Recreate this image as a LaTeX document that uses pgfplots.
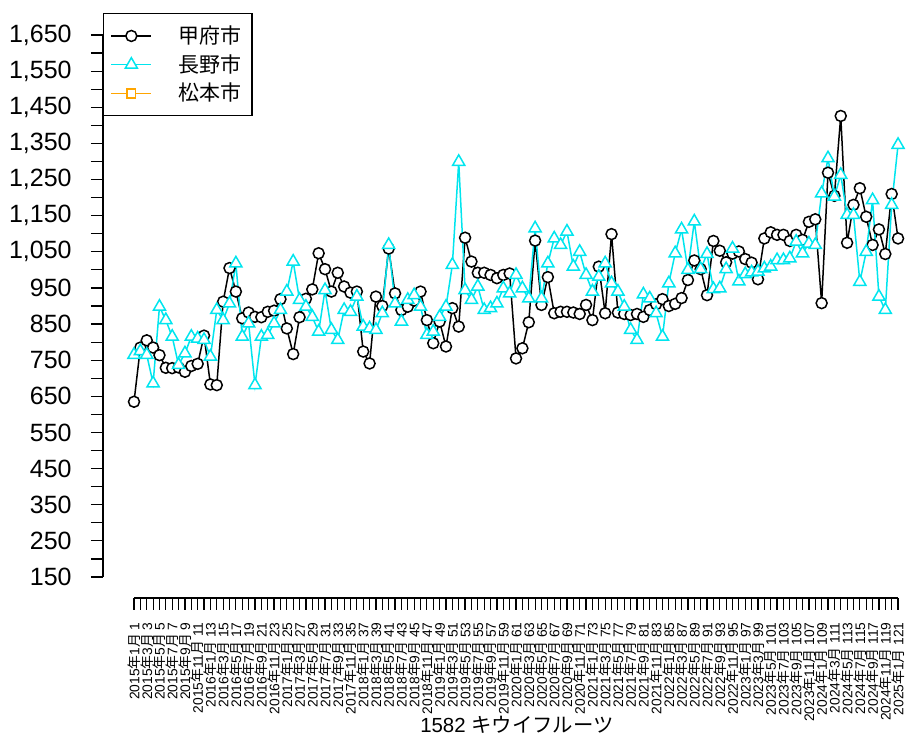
\documentclass[border=0pt]{standalone}
\usepackage{fontspec}
\setmainfont{Liberation Sans}
\newfontfamily\cjk{Noto Sans CJK JP}
\usepackage{pgfplots}
\pgfplotsset{compat=1.18}
\usepackage{pgfplotstable}
\definecolor{kcyan}{RGB}{0,229,238}
\definecolor{korange}{RGB}{255,165,0}
\newcommand{\XL}[3]{#1{\cjk 年}#2{\cjk 月} #3}
\pgfplotstableread{
i kofu nagano
1 635 765
2 785 775
3 805 765
4 785 686
5 764 898
6 729 861
7 728 815
8 730 737
9 718 769
10 734 815
11 740 810
12 818 806
13 683 760
14 681 889
15 912 861
16 1005 907
17 940 1018
18 866 815
19 882 852
20 870 681
21 869 815
22 884 820
23 887 852
24 919 889
25 838 940
26 767 1023
27 869 917
28 920 898
29 946 870
30 1046 829
31 1002 944
32 940 834
33 992 806
34 954 889
35 937 884
36 940 926
37 774 843
38 741 838
39 926 834
40 900 880
41 1059 1069
42 935 907
43 889 857
44 898 917
45 915 930
46 940 898
47 861 820
48 797 829
49 857 870
50 788 898
51 894 1014
52 843 1299
53 1089 944
54 1023 917
55 992 954
56 992 889
57 986 894
58 977 907
59 986 949
60 990 935
61 755 986
62 783 949
63 855 921
64 1081 1115
65 903 921
66 980 1018
67 880 1087
68 884 1069
69 884 1106
70 882 1009
71 878 1050
72 903 986
73 861 940
74 1009 981
75 880 1018
76 1099 963
77 882 940
78 878 898
79 875 834
80 878 806
81 870 932
82 889 921
83 905 880
84 919 815
85 900 963
86 906 1046
87 922 1112
88 972 1000
89 1026 1134
90 1002 1002
91 930 1044
92 1080 947
93 1053 949
94 1021 1002
95 1045 1059
96 1051 968
97 1030 988
98 1020 993
99 974 995
100 1087 1004
101 1104 1009
102 1097 1027
103 1097 1027
104 1080 1032
105 1097 1078
106 1083 1046
107 1133 1073
108 1140 1069
109 908 1212
110 1269 1309
111 1205 1203
112 1426 1263
113 1075 1152
114 1180 1152
115 1226 967
116 1147 1050
117 1069 1193
118 1112 926
119 1044 889
120 1210 1180
121 1087 1346
}\data
\begin{document}
\begin{tikzpicture}
\begin{axis}[name=ax, scale only axis, width=401.5pt, height=292.5pt,
  xmin=-3.87, xmax=122.25, ymin=91.9, ymax=1711,
  axis x line=bottom, axis y line=left, axis line style={draw=none},
  clip=false,
  xtick={1,3,...,121}, minor xtick={2,4,...,120},
  xticklabels={\XL{2015}{1}{1},\XL{2015}{3}{3},\XL{2015}{5}{5},\XL{2015}{7}{7},\XL{2015}{9}{9},\XL{2015}{11}{11},
    \XL{2016}{1}{13},\XL{2016}{3}{15},\XL{2016}{5}{17},\XL{2016}{7}{19},\XL{2016}{9}{21},\XL{2016}{11}{23},
    \XL{2017}{1}{25},\XL{2017}{3}{27},\XL{2017}{5}{29},\XL{2017}{7}{31},\XL{2017}{9}{33},\XL{2017}{11}{35},
    \XL{2018}{1}{37},\XL{2018}{3}{39},\XL{2018}{5}{41},\XL{2018}{7}{43},\XL{2018}{9}{45},\XL{2018}{11}{47},
    \XL{2019}{1}{49},\XL{2019}{3}{51},\XL{2019}{5}{53},\XL{2019}{7}{55},\XL{2019}{9}{57},\XL{2019}{11}{59},
    \XL{2020}{1}{61},\XL{2020}{3}{63},\XL{2020}{5}{65},\XL{2020}{7}{67},\XL{2020}{9}{69},\XL{2020}{11}{71},
    \XL{2021}{1}{73},\XL{2021}{3}{75},\XL{2021}{5}{77},\XL{2021}{7}{79},\XL{2021}{9}{81},\XL{2021}{11}{83},
    \XL{2022}{1}{85},\XL{2022}{3}{87},\XL{2022}{5}{89},\XL{2022}{7}{91},\XL{2022}{9}{93},\XL{2022}{11}{95},
    \XL{2023}{1}{97},\XL{2023}{3}{99},\XL{2023}{5}{101},\XL{2023}{7}{103},\XL{2023}{9}{105},\XL{2023}{11}{107},
    \XL{2024}{1}{109},\XL{2024}{3}{111},\XL{2024}{5}{113},\XL{2024}{7}{115},\XL{2024}{9}{117},\XL{2024}{11}{119},
    \XL{2025}{1}{121}},
  xticklabel style={rotate=90, anchor=east, font=\fontsize{6.9}{8}\selectfont, inner sep=0pt, xshift=-6pt},
  ytick={150,250,...,1650}, minor ytick={200,300,...,1600},
  yticklabel style={font=\fontsize{12.5}{14}\selectfont, anchor=east, inner sep=0pt, xshift=-9.5pt},
  tick align=outside, major tick length=6pt, minor tick length=6pt,
  tick style={black, line width=0.6pt},
  xlabel={1582 {\cjk キウイフルーツ}},
  xlabel style={at={(rel axis cs:0.5156,0)}, anchor=center, yshift=-63.5pt, font=\fontsize{10.2}{12}\selectfont},
  legend style={at={(axis cs:-3.87,1711)}, anchor=north west, draw=black, line width=0.6pt, fill=white,
    font=\fontsize{10.5}{12}\cjk, inner xsep=3.5pt, inner ysep=4pt, row sep=0pt},
  legend cell align=left,
  legend image code/.code={\draw[mark repeat=2,mark phase=2,#1] plot coordinates {(0pt,0pt) (10pt,0pt) (20pt,0pt)};},
  /pgf/number format/1000 sep={,},
  /pgf/number format/assume math mode=true,
]
\draw[line width=0.6pt] (axis cs:-3.87,150) -- (axis cs:-3.87,1650);
\draw[line width=0.6pt] (axis cs:1,91.9) -- (axis cs:121,91.9);
\addplot[black, line width=0.75pt, mark=*, mark size=2.75pt, mark options={fill=white, draw=black}] table[x=i, y=kofu] {\data};
\addplot[kcyan, line width=0.75pt, mark=triangle*, mark size=3.5pt, mark options={fill=white, draw=kcyan}] table[x=i, y=nagano] {\data};
\addlegendimage{korange, line width=0.75pt, mark=square*, mark size=2.2pt, mark options={fill=white, draw=korange}}
\legend{\hspace{11pt}甲府市\hspace{5pt},\hspace{11pt}長野市\hspace{5pt},\hspace{11pt}松本市\hspace{5pt}}
\end{axis}
\path (ax.south west) ++(-51.5pt,299pt);
\path (ax.south west) ++(401.5pt,-72.5pt);
\end{tikzpicture}
\end{document}
